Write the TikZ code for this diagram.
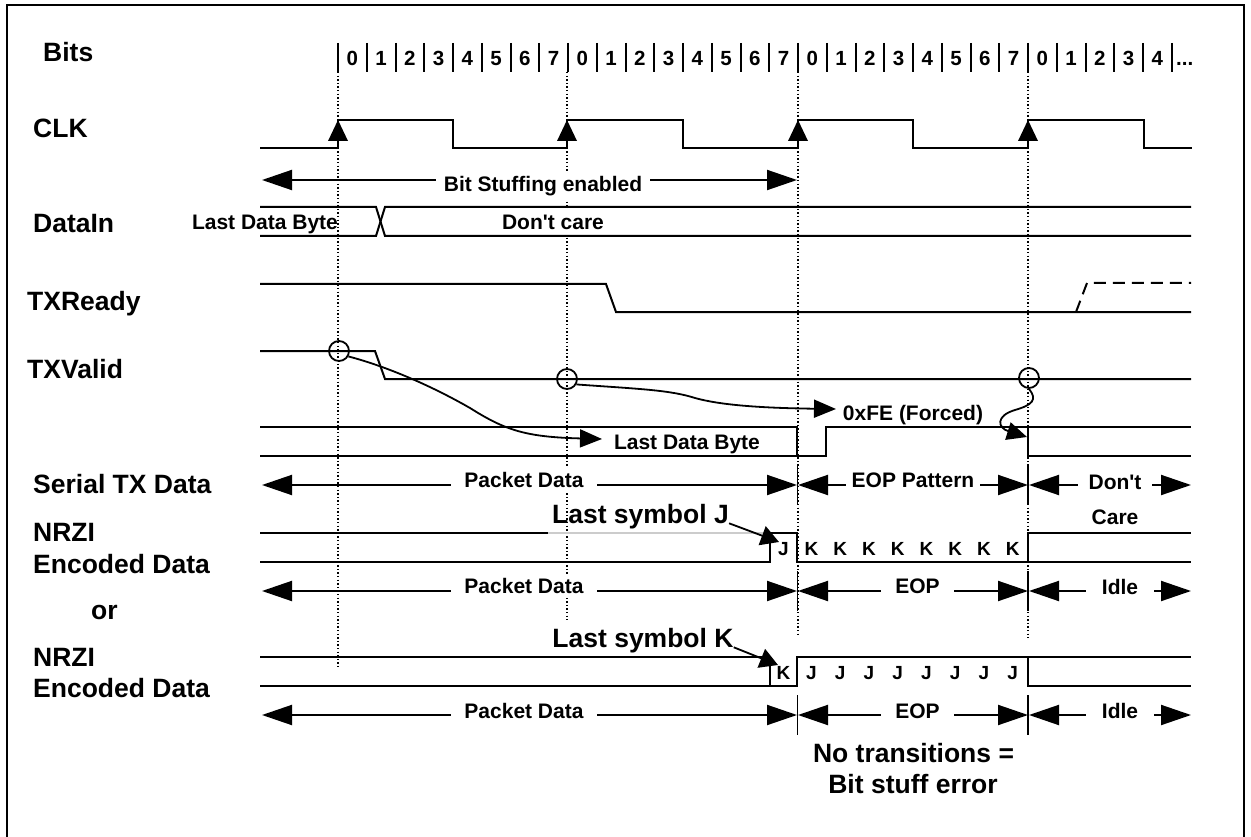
\documentclass[tikz,border=0pt]{standalone}
\usepackage{fontspec}
\newfontfamily\arialf{Liberation Sans}
\usetikzlibrary{arrows.meta}
\begin{document}
\begin{tikzpicture}[x=1pt,y=-1pt,
  wave/.style={line width=2pt},
  dotv/.style={line width=1.4pt, dash pattern=on 1.4pt off 2.2pt},
  sig/.style={font=\arialf\fontsize{26.5}{30}\selectfont\bfseries, anchor=base west, inner sep=0pt},
  txt/.style={font=\arialf\fontsize{21}{25}\selectfont\bfseries, anchor=base, inner sep=0pt},
  dimlbl/.style={txt, fill=white, inner ysep=4pt},
  big/.style={font=\arialf\fontsize{26.5}{30}\selectfont\bfseries, anchor=base, inner sep=0pt},
  bit/.style={font=\arialf\fontsize{20.5}{24}\selectfont\bfseries, anchor=base, inner sep=0pt},
  sym/.style={font=\arialf\fontsize{19}{22}\selectfont\bfseries, anchor=base, inner sep=0pt},
  dimarrow/.style={line width=2pt, {Triangle[length=30pt,width=20pt]}-{Triangle[length=30pt,width=20pt]}},
  curv/.style={line width=1.8pt, -{Triangle[length=22pt,width=18pt]}},
  ptr/.style={line width=1.8pt, -{Triangle[length=18pt,width=20pt]}},
  tick/.style={line width=1.4pt},
  ring/.style={circle, draw, line width=1.8pt, minimum size=20pt, inner sep=0pt},
]
\useasboundingbox (0,0) rectangle (1251,837);
% frame
\draw[line width=2.5pt] (7,850) -- (7,5) -- (1244,5) -- (1244,850);

% left labels
\node[sig] (lBits) at (43,61.5) {Bits};
\node[sig] (lCLK) at (33,138) {CLK};
\node[sig] (lDataIn) at (33,233) {DataIn};
\node[sig] (lTXReady) at (27,310) {TXReady};
\node[sig] (lTXValid) at (27,378) {TXValid};
\node[sig] (lSerial) at (33,493) {Serial TX Data};
\node[sig] (lNRZIa) at (33,541) {NRZI};
\node[sig] (lEncA) at (33,573) {Encoded Data};
\node[sig] (lOr) at (91,619) {or};
\node[sig] (lNRZIb) at (33,666) {NRZI};
\node[sig] (lEncB) at (33,697) {Encoded Data};

% dotted clock-edge guides
\draw[dotv] (338,72) -- (338,668);
\draw[dotv] (567,72) -- (567,620);
\draw[dotv] (798,72) -- (798,637);
\draw[dotv] (1028,72) -- (1028,638);

% bits
\foreach \k in {0,...,29} \draw[wave] ({338+28.75*\k},43) -- ({338+28.75*\k},72);
\foreach \k in {0,...,28} {\pgfmathtruncatemacro\bitd{mod(\k,8)}
  \node[bit] (b\k) at ({352.4+28.75*\k},65.5) {\bitd};}
\node[bit, anchor=base west] (bdots) at (1176,65.5) {...};

% CLK
\draw[wave] (260,148) -- (338,148) -- (338,120) -- (453,120) -- (453,148) -- (567,148) -- (567,120)
  -- (683,120) -- (683,148) -- (798,148) -- (798,120) -- (913,120) -- (913,148) -- (1028,148)
  -- (1028,120) -- (1144,120) -- (1144,148) -- (1192,148);
\foreach \x in {338,567,798,1028} \fill (\x,120) -- ({\x-10},141) -- ({\x+10},141) -- cycle;

% Bit stuffing
\draw[dimarrow] (262,180) -- (797,180);
\node[dimlbl, inner xsep=8pt] (bse) at (543,192) {Bit Stuffing enabled};

% DataIn
\node[dimlbl, inner xsep=3pt, inner ysep=6pt] (diD) at (553,229.5) {Don't care};
\draw[wave] (260,207) -- (376,207) -- (385,236) -- (1191,236);
\draw[wave] (260,236) -- (376,236) -- (385,207) -- (1191,207);
\node[txt] (diL) at (265,229.5) {Last Data Byte};

% TXReady
\draw[wave] (260,284) -- (606,284) -- (616,312) -- (1191,312);
\draw[wave, dash pattern=on 12pt off 7pt] (1076,312) -- (1087,283) -- (1191,283);

% TXValid
\draw[wave] (260,351) -- (375,351) -- (385,379) -- (1191,379);
\node[ring] (c1) at (339,351) {};
\node[ring] (c2) at (567,379) {};
\node[ring] (c3) at (1029,378) {};

% Serial TX data
\draw[wave] (260,427) -- (797,427) -- (797,456);
\draw[wave] (260,456) -- (826,456) -- (826,427) -- (1028,427) -- (1028,456) -- (1191,456);
\draw[wave] (1028,427) -- (1191,427);
\node[txt] (stL) at (687,449.3) {Last Data Byte};
\node[txt] (fe) at (913,420) {0xFE (Forced)};

\coordinate (t1) at (602,439);
\coordinate (t2) at (836,409);
\coordinate (t3) at (1027,437);
\draw[curv] (c1.-30) .. controls (385,366) and (430,385) .. (470,408) .. controls (505,430) and (525,437) .. (t1);
\draw[curv] (c2.-30) .. controls (640,389) and (670,390) .. (695,398) .. controls (720,405) and (760,408) .. (t2);
\draw[line width=1.8pt, -{Triangle[length=20pt,width=18pt]}] (c3.south) .. controls (1038,400) and (1032,405) .. (1015,410) .. controls (995,416) and (998,428) .. (t3);

% dimension rows
\foreach \y in {485,591,715} {
  \draw[tick] (797.5,\y-20) -- (797.5,\y+20);
  \draw[tick] (1028,\y-20) -- (1028,\y+20);
}
\draw[dimarrow] (262,485) -- (797,485);
\node[dimlbl, inner xsep=13pt] (pA) at (524,487.5) {Packet Data};
\draw[dimarrow] (798,485) -- (1028,485);
\node[dimlbl, inner xsep=6pt] (eA) at (913,487.5) {EOP Pattern};
\draw[dimarrow] (1029,485) -- (1191,485);
\node[dimlbl, inner xsep=11pt] (dA) at (1115,489) {Don't};
\node[txt] (dA2) at (1115,524) {Care};

\draw[dimarrow] (262,591) -- (797,591);
\node[dimlbl, inner xsep=13pt] (pB) at (524,593.5) {Packet Data};
\draw[dimarrow] (798,591) -- (1028,591);
\node[dimlbl, inner xsep=14pt] (eB) at (917.5,593.5) {EOP};
\draw[dimarrow] (1029,591) -- (1191,591);
\node[dimlbl, inner xsep=16pt] (iB) at (1120,594) {Idle};

\draw[dimarrow] (262,715) -- (797,715);
\node[dimlbl, inner xsep=13pt] (pC) at (524,718) {Packet Data};
\draw[dimarrow] (798,715) -- (1028,715);
\node[dimlbl, inner xsep=14pt] (eC) at (917.5,718) {EOP};
\draw[dimarrow] (1029,715) -- (1191,715);
\node[dimlbl, inner xsep=16pt] (iC) at (1120,718) {Idle};

% NRZI (last symbol J)
\draw[wave] (260,533) -- (548,533);
\draw[line width=1.2pt, gray!40] (548,533) -- (770,533);
\draw[wave] (260,562) -- (770,562) -- (770,533) -- (797,533) -- (797,562) -- (1028,562) -- (1028,533) -- (1191,533);
\draw[wave] (1028,562) -- (1191,562);
\node[sym] (jJ) at (783.5,555.5) {J};
\foreach \i in {0,...,7} \node[sym] (kA\i) at ({811.4+28.75*\i},555.5) {K};
\node[big] (lsJ) at (640.5,523.3) {Last symbol J};
\coordinate (pJ) at (779,542);
\draw[ptr] (lsJ.base east) -- (pJ);

% NRZI (last symbol K)
\draw[wave] (260,657) -- (770,657) -- (770,686);
\draw[wave] (260,686) -- (797,686) -- (797,657) -- (1028,657) -- (1028,686) -- (1191,686);
\draw[wave] (1028,657) -- (1191,657);
\node[sym] (kK) at (783.5,679) {K};
\foreach \i in {0,...,7} \node[sym] (jB\i) at ({811.4+28.75*\i},679) {J};
\node[big] (lsK) at (643,647.3) {Last symbol K};
\coordinate (pK) at (778,665);
\draw[ptr] (lsK.base east) -- (pK);

% note
\node[big] (nt1) at (913.5,762) {No transitions =};
\node[big] (nt2) at (913,793) {Bit stuff error};
\end{tikzpicture}
\end{document}
